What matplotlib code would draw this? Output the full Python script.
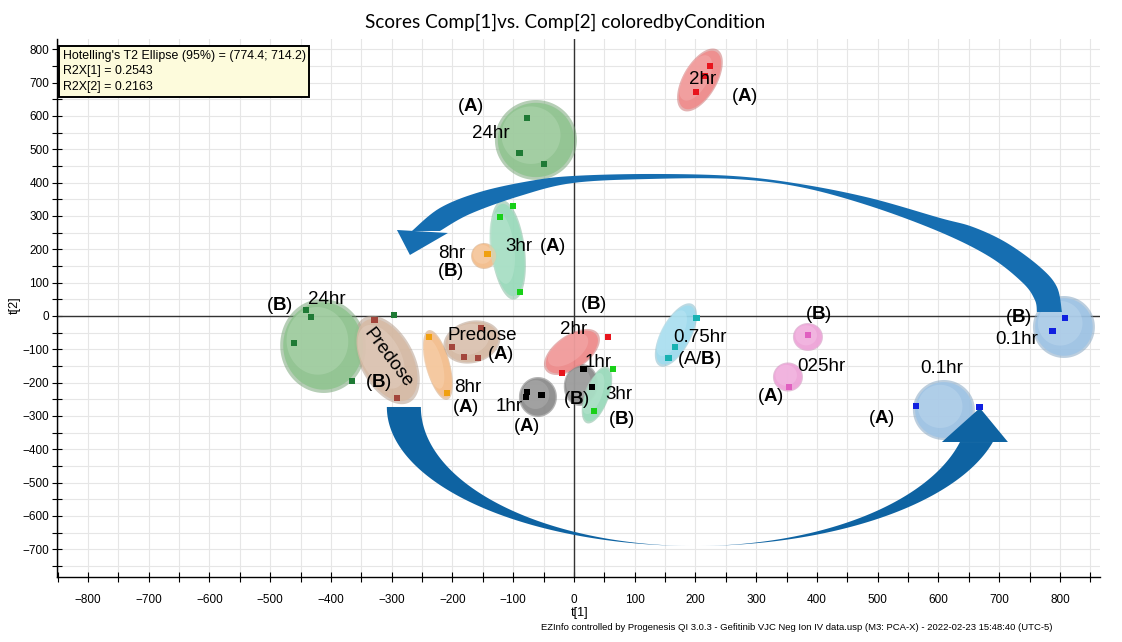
import numpy as np
import matplotlib
matplotlib.use("Agg")
import matplotlib.pyplot as plt
from matplotlib.patches import Polygon
from matplotlib.colors import to_rgb

plt.rcParams['font.family'] = ['Liberation Sans', 'DejaVu Sans']
plt.rcParams['mathtext.fontset'] = 'custom'
plt.rcParams['mathtext.rm'] = 'Liberation Sans'
plt.rcParams['mathtext.bf'] = 'Liberation Sans:bold'
plt.rcParams['mathtext.it'] = 'Liberation Sans:italic'

# ---------------- data (scores t[1], t[2]) ----------------
t1_24hr_A = [-77, -90, -49];      t2_24hr_A = [594, 489, 456]
t1_2hr_A = [224, 216, 201];       t2_2hr_A = [750, 720, 672]
t1_3hr_A = [-100, -122, -89];     t2_3hr_A = [330, 297, 72]
t1_8hr_B = [-142];                t2_8hr_B = [186]
t1_24hr_B = [-441, -433, -461, -365, -296]; t2_24hr_B = [18, -3, -81, -195, 3]
t1_pre_B = [-328, -291];          t2_pre_B = [-12, -246]
t1_pre_A = [-153, -201, -181, -158]; t2_pre_A = [-36, -93, -123, -126]
t1_8hr_A = [-239, -209];          t2_8hr_A = [-63, -231]
t1_1hr_A = [-77, -79, -53];       t2_1hr_A = [-228, -243, -237]
t1_2hr_B = [56, -20];             t2_2hr_B = [-63, -171]
t1_1hr_B = [16, 30];              t2_1hr_B = [-159, -213]
t1_3hr_B = [64, 33];              t2_3hr_B = [-159, -285]
t1_075hr = [202, 166, 156];       t2_075hr = [-6, -93, -126]
t1_025hr_B = [385];               t2_025hr_B = [-57]
t1_025hr_A = [354];               t2_025hr_A = [-213]
t1_01hr_B = [808, 788];           t2_01hr_B = [-6, -45]
t1_01hr_A = [563, 668];           t2_01hr_A = [-270, -273]

x_ticks = list(range(-800, 801, 100))
y_ticks = list(range(-700, 801, 100))
legend_lines = ["Hotelling's T2 Ellipse (95%) = (774.4; 714.2)", "R2X[1] = 0.2543", "R2X[2] = 0.2163"]

# colours per condition
C = {
    '24hr': ('#1f7a35', '#8fc48f'),
    '2hr': ('#e8141c', '#f08a8a'),
    '3hr': ('#18d018', '#9adcbc'),
    '8hr': ('#f0a010', '#f6bf8c'),
    'pre': ('#a3463c', '#d6baa4'),
    '1hr': ('#000000', '#8c8c8c'),
    '075': ('#18b2b2', '#9edcef'),
    '025': ('#e060c0', '#f0a4da'),
    '01': ('#1020e0', '#9ec4e6'),
}

fig = plt.figure(figsize=(11.22, 6.42), dpi=100)
W, H = 1122, 642
ax_l, ax_r, ax_t, ax_b = 57, 1100, 39.3, 577
ax = fig.add_axes([ax_l / W, (H - ax_b) / H, (ax_r - ax_l) / W, (ax_b - ax_t) / H])
XL = (-851, 866); YL = (-783, 830)
ax.set_xlim(*XL); ax.set_ylim(*YL)
# ratio: y-data per pixel / x-data per pixel
K = ((YL[1] - YL[0]) / (ax_b - ax_t)) / ((XL[1] - XL[0]) / (ax_r - ax_l))

# grid & ticks
ax.set_xticks(x_ticks)
ax.set_yticks(y_ticks)
ax.set_xticks(np.arange(-850, 851, 50), minor=True)
ax.set_yticks(np.arange(-750, 801, 50), minor=True)
ax.grid(which='both', color='#e6e6e6', lw=0.8, zorder=0)
ax.set_axisbelow(True)
ax.tick_params(which='both', direction='inout', length=7, width=0.8, labelsize=8.5)
ax.tick_params(axis='x', pad=9)
ax.tick_params(axis='y', pad=2)
for s in ['top', 'right']:
    ax.spines[s].set_visible(False)
for s in ['left', 'bottom']:
    ax.spines[s].set_linewidth(1.0)
ax.axhline(0, color='#333333', lw=1.0, zorder=1)
ax.axvline(0, color='#333333', lw=1.0, zorder=1)


def ell_pts(cx, cy, a, b, ang, n=120):
    t = np.linspace(0, 2 * np.pi, n)
    th = np.deg2rad(ang)
    dx = a * np.cos(t) * np.cos(th) - b * np.sin(t) * np.sin(th)
    dy = a * np.cos(t) * np.sin(th) + b * np.sin(t) * np.cos(th)
    return np.column_stack([cx + dx, cy + dy * K])


def mix(c, d, f):
    c = np.array(to_rgb(c)); d = np.array(to_rgb(d))
    return tuple(c * (1 - f) + d * f)


def bubble(cx, cy, a, b, ang, col):
    ax.add_patch(Polygon(ell_pts(cx, cy, a, b, ang), closed=True, fc=mix(col, 'black', 0.15),
                         ec='none', alpha=0.55, zorder=2))
    ax.add_patch(Polygon(ell_pts(cx, cy, a * 0.93, b * 0.93, ang), closed=True, fc=col,
                         ec='none', alpha=0.85, zorder=2.1))
    ox = -0.12 * a; oy = 0.12 * b
    ax.add_patch(Polygon(ell_pts(cx + ox, cy + oy * K, a * 0.72, b * 0.72, ang), closed=True,
                         fc=mix(col, 'white', 0.35), ec='none', alpha=0.45, zorder=2.2))

# ellipses: centre (data), semi-axes (x-data units), screen angle
ellipses = [
    (-62.6, 528, 67.5, 65.8, 0, C['24hr'][1]),
    (207.4, 708, 57.6, 28.0, 60, C['2hr'][1]),
    (-108.6, 198, 82.3, 28.0, 97, C['3hr'][1]),
    (-148, 180, 21.4, 21.4, 0, C['8hr'][1]),
    (-413, -90, 77.4, 70.5, 95, C['24hr'][1]),
    (-307.8, -132, 79.0, 44.4, 118, C['pre'][1]),
    (-168, -78, 47.7, 34.6, 15, C['pre'][1]),
    (-223.9, -147, 59.3, 19.8, 105, C['8hr'][1]),
    (-59.3, -243, 31.3, 32.9, 0, C['1hr'][1]),
    (-3.3, -108, 52.7, 28.0, 35, C['2hr'][1]),
    (11.5, -207, 34.6, 28.0, 80, C['1hr'][1]),
    (37.9, -237, 49.4, 19.8, 70, C['3hr'][1]),
    (167.9, -57, 57.6, 24.7, 62, C['075'][1]),
    (385.2, -63, 24.7, 23.0, 0, C['025'][1]),
    (352.3, -183, 24.7, 23.9, 0, C['025'][1]),
    (806.6, -33, 51.0, 51.0, 0, C['01'][1]),
    (609, -282, 51.0, 49.4, 0, C['01'][1]),
]
for (cx, cy, a, b, ang, col) in ellipses:
    bubble(cx, cy, a, b, ang, col)


# ---------------- arrows ----------------
def smooth(pts, n=10):
    pts = np.asarray(pts, float)
    P = np.vstack([pts[0], pts, pts[-1]])
    out = []
    for i in range(1, len(P) - 2):
        p0, p1, p2, p3 = P[i - 1], P[i], P[i + 1], P[i + 2]
        for t in np.linspace(0, 1, n, endpoint=False):
            out.append(0.5 * ((2 * p1) + (-p0 + p2) * t + (2 * p0 - 5 * p1 + 4 * p2 - p3) * t ** 2
                              + (-p0 + 3 * p1 - 3 * p2 + p3) * t ** 3))
    out.append(pts[-1])
    return np.array(out)

# lower arrow (crescent band + head)
lcx, lcy, A_out, A_in, B_ = 199, -273, 507, 451, 417
th = np.deg2rad(np.linspace(180, 345.4, 200))
outer = np.column_stack([lcx + A_out * np.cos(th), lcy + B_ * np.sin(th)])
inner = np.column_stack([lcx + A_in * np.cos(th), lcy + B_ * np.sin(th)])[::-1]
col_low = '#0e63a2'
ax.add_patch(Polygon(np.vstack([outer, inner]), closed=True, fc=col_low, ec='none', zorder=3))
ax.add_patch(Polygon([(605.8, -378), (668.3, -276), (714.4, -378)], closed=True, fc=col_low,
                     ec='none', zorder=3))

# upper arrow
up_outer = [(-266.7, 255), (-220.6, 324), (-154.7, 372), (-72.4, 405), (-1.6, 420), (125.1, 426),
            (261.7, 420), (372.0, 396), (487.2, 354), (602.5, 294), (656.8, 267), (712.8, 219),
            (767.1, 147), (795.1, 87), (803.3, 12)]
up_inner = [(762.1, 12), (758.8, 48), (739.1, 99), (684.8, 177), (602.5, 252), (487.2, 330),
            (372.0, 387), (261.7, 411), (125.1, 411), (-1.6, 399), (-88.9, 360), (-171.2, 306),
            (-220.6, 255)]
col_up = '#166eb1'
ax.add_patch(Polygon(np.vstack([smooth(up_outer), smooth(up_inner)]), closed=True, fc=col_up,
                     ec='none', zorder=3))
ax.add_patch(Polygon([(-291.4, 258), (-270, 183), (-207.4, 249)], closed=True, fc=col_up,
                     ec='none', zorder=3))

# ---------------- points ----------------
series = [
    (t1_24hr_A, t2_24hr_A, '24hr'), (t1_2hr_A, t2_2hr_A, '2hr'), (t1_3hr_A, t2_3hr_A, '3hr'),
    (t1_8hr_B, t2_8hr_B, '8hr'), (t1_24hr_B, t2_24hr_B, '24hr'), (t1_pre_B, t2_pre_B, 'pre'),
    (t1_pre_A, t2_pre_A, 'pre'), (t1_8hr_A, t2_8hr_A, '8hr'), (t1_1hr_A, t2_1hr_A, '1hr'),
    (t1_2hr_B, t2_2hr_B, '2hr'), (t1_1hr_B, t2_1hr_B, '1hr'), (t1_3hr_B, t2_3hr_B, '3hr'),
    (t1_075hr, t2_075hr, '075'), (t1_025hr_B, t2_025hr_B, '025'), (t1_025hr_A, t2_025hr_A, '025'),
    (t1_01hr_B, t2_01hr_B, '01'), (t1_01hr_A, t2_01hr_A, '01'),
]
for xs, ys, key in series:
    ax.scatter(xs, ys, marker='s', s=22, color=C[key][0], edgecolors='none', zorder=5)

# ---------------- labels ----------------
FS = 13.5
A_ = r'($\mathbf{A}$)'
B_s = r'($\mathbf{B}$)'
labels = [
    (-171, 627, A_), (-136.6, 546, '24hr'),
    (212, 708, '2hr'), (281.5, 657, A_),
    (-90.5, 207, '3hr'), (-36.2, 207, A_),
    (-200.8, 186, '8hr'), (-204, 132, B_s),
    (-485.6, 30, B_s), (-406.6, 48, '24hr'),
    (-322.6, -201, B_s),
    (-151.4, -60, 'Predose'), (-121.8, -117, A_),
    (-174.5, -216, '8hr'), (-177.8, -276, A_),
    (-107, -273, '1hr'), (-79, -333, A_),
    (31.3, 33, B_s), (0, -42, '2hr'),
    (39.5, -141, '1hr'), (3.3, -252, B_s),
    (74, -237, '3hr'), (79, -312, B_s),
    (207.4, -66, '0.75hr'), (205.8, -132, r'(A/$\mathbf{B}$)'),
    (403, 3, B_s), (408, -153, '025hr'), (324, -243, A_),
    (731, -6, B_s), (729, -72, '0.1hr'),
    (605.8, -159, '0.1hr'), (507, -309, A_),
]
for x, y, s in labels:
    ax.text(x, y, s, fontsize=FS, ha='center', va='center', zorder=6, color='black')
ax.text(-306, -126, 'Predose', fontsize=FS, ha='center', va='center', rotation=-53,
        rotation_mode='anchor', zorder=6)

# Hotelling box
ax.text(0.0055, 0.98, "\n".join(legend_lines), transform=ax.transAxes, ha='left', va='top',
        fontsize=8.9, linespacing=1.38, zorder=7,
        bbox=dict(boxstyle='square,pad=0.3', fc='#fdfbdc', ec='black', lw=1.4))

# titles / axis labels
fig.text(0.504, 1 - 22 / H, 'Scores Comp[1]vs. Comp[2] coloredbyCondition', ha='center',
         va='center', fontsize=13.6, family=['Lato', 'DejaVu Sans'])
fig.text(15 / W, 1 - 305 / H, 't[2]', rotation=90, ha='center', va='center', fontsize=9)
fig.text(580 / W, 1 - 613 / H, 't[1]', ha='center', va='center', fontsize=9)
fig.text(797 / W, 1 - 628 / H,
         'EZInfo controlled by Progenesis QI 3.0.3 - Gefitinib VJC Neg Ion IV data.usp (M3: PCA-X) - 2022-02-23 15:48:40 (UTC-5)',
         ha='center', va='center', fontsize=6.8)

fig.savefig('out.png', dpi=100)
